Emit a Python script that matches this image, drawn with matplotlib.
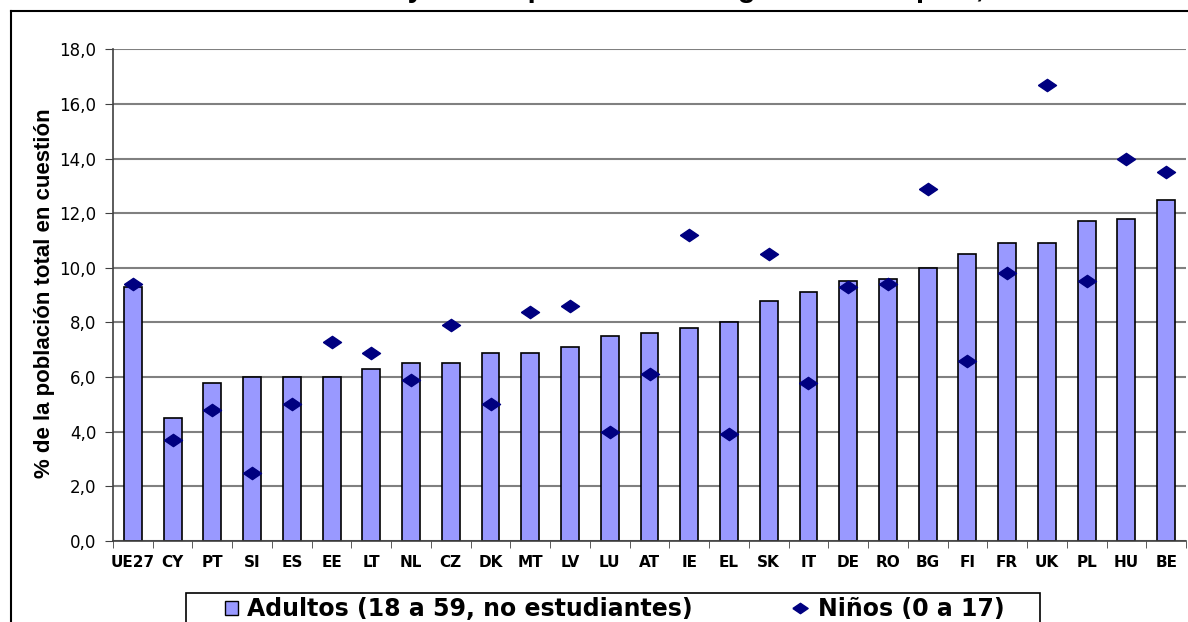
# chart: adults and children in jobless households, 2007

import matplotlib.pyplot as plt
from matplotlib.lines import Line2D
from matplotlib.patches import Patch, Rectangle
import numpy as np

countries = ["UE27", "CY", "PT", "SI", "ES", "EE", "LT", "NL", "CZ", "DK", "MT", "LV", "LU", "AT",
             "IE", "EL", "SK", "IT", "DE", "RO", "BG", "FI", "FR", "UK", "PL", "HU", "BE"]
adultos = [9.3, 4.5, 5.8, 6.0, 6.0, 6.0, 6.3, 6.5, 6.5, 6.9, 6.9, 7.1, 7.5, 7.6,
           7.8, 8.0, 8.8, 9.1, 9.5, 9.6, 10.0, 10.5, 10.9, 10.9, 11.7, 11.8, 12.5]
ninos = [9.4, 3.7, 4.8, 2.5, 5.0, 7.3, 6.9, 5.9, 7.9, 5.0, 8.4, 8.6, 4.0, 6.1,
         11.2, 3.9, 10.5, 5.8, 9.3, 9.4, 12.9, 6.6, 9.8, 16.7, 9.5, 14.0, 13.5]
y_ticks = np.arange(0, 18.1, 2)

title = "Adultos y niños que viven en hogares sin empleo, 2007"
ylabel = "% de la población total en cuestión"
label_adultos = "Adultos (18 a 59, no estudiantes)"
label_ninos = "Niños (0 a 17)"


def main():
  W, H = 1188, 622
  fig = plt.figure(figsize=(W / 100, H / 100), dpi=100)
  ax = fig.add_axes([113 / W, 1 - 541 / H, (1186 - 113) / W, (541 - 49.3) / H])

  # wide diamond like the excel marker
  diamond = [(-1, 0), (0, 0.68), (1, 0), (0, -0.68), (-1, 0)]

  x = np.arange(len(countries))
  ax.bar(x, adultos, width=0.45, color='#9999FF', edgecolor='black', linewidth=1.2, zorder=2)
  ax.plot(x, ninos, linestyle='none', marker=diamond, markersize=13, color='#000080', zorder=3)

  ax.set_xlim(-0.5, len(countries) - 0.5)
  ax.set_ylim(0, 18)
  ax.set_yticks(y_ticks)
  ax.set_yticklabels([("%.1f" % v).replace(".", ",") for v in y_ticks], fontsize=12, family='DejaVu Sans')
  ax.yaxis.grid(True, color='#808080', linewidth=1.5, zorder=0)
  ax.set_axisbelow(True)

  ax.set_xticks(x)
  ax.set_xticklabels(countries, fontsize=11, fontweight='bold', family='DejaVu Sans')
  ax.set_xticks(np.arange(-0.5, len(countries), 1), minor=True)
  ax.tick_params(axis='x', which='major', length=0, pad=10)
  ax.tick_params(axis='x', which='minor', length=5, color='#404040', direction='out')
  ax.tick_params(axis='y', length=6, color='#404040', direction='out', pad=6)

  for side in ['top', 'right']:
    ax.spines[side].set_visible(False)
  for side in ['left', 'bottom']:
    ax.spines[side].set_color('#404040')
    ax.spines[side].set_linewidth(1.2)

  fig.text(45 / W, 1 - 293 / H, ylabel, rotation=90, ha='center', va='center',
           fontsize=16, fontweight='bold', family='Liberation Sans')

  # title is mostly cut off at the top of the picture
  fig.text(291 / W, 1 + 3 / H, title, ha='left', va='baseline',
           fontsize=21, fontweight='bold', family='Liberation Sans')

  # outer chart frame, only left and top edges are visible
  fig.add_artist(Line2D([11 / W, 11 / W], [0, 1 - 11 / H], color='black', linewidth=1.5))
  fig.add_artist(Line2D([11 / W, 1], [1 - 11 / H, 1 - 11 / H], color='black', linewidth=1.5))

  # legend frame runs past the bottom edge
  fig.add_artist(Rectangle((186 / W, -0.05), (1040 - 186) / W, 0.05 + (622 - 593) / H,
                           transform=fig.transFigure, facecolor='white', edgecolor='black', linewidth=1.2))

  leg_font = {'family': 'DejaVu Sans', 'weight': 'bold', 'size': 17}
  h1 = Patch(facecolor='#9999FF', edgecolor='black', linewidth=1.0)
  h2 = Line2D([], [], linestyle='none', marker=diamond, markersize=11, color='#000080')
  fig.legend([h1], [label_adultos], loc='center left', bbox_to_anchor=(225 / W, 1 - 609 / H),
             frameon=False, borderpad=0, borderaxespad=0, handlelength=0.55, handleheight=0.55,
             handletextpad=0.4, prop=leg_font)
  fig.legend([h2], [label_ninos], loc='center left', bbox_to_anchor=(792 / W, 1 - 609 / H),
             frameon=False, borderpad=0, borderaxespad=0, handlelength=0.7, handleheight=0.55,
             handletextpad=0.4, prop=leg_font)

  fig.savefig('out.png', dpi=100)


if __name__ == "__main__":
  main()
